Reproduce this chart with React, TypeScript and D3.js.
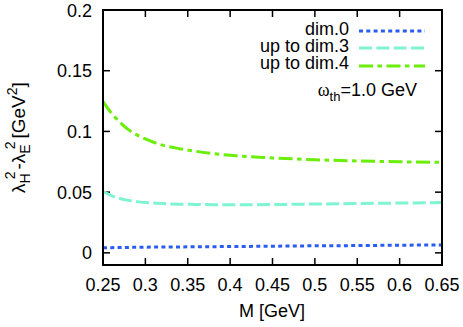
import React from "react";
import * as d3 from "d3";

const massValues = [0.25, 0.26, 0.27, 0.28, 0.29, 0.30, 0.32, 0.34, 0.36, 0.38, 0.40, 0.45, 0.50, 0.55, 0.60, 0.65];
const dim0Values = [0.0042, 0.0043, 0.0044, 0.0045, 0.0046, 0.0047, 0.0048, 0.0049, 0.0050, 0.0051, 0.0052, 0.0055, 0.0058, 0.0060, 0.0063, 0.0065];
const dim3Values = [0.0504, 0.0472, 0.0448, 0.0432, 0.0422, 0.0415, 0.0406, 0.0401, 0.0399, 0.0397, 0.0396, 0.0398, 0.0402, 0.0406, 0.0410, 0.0414];
const dim4Values = [0.1245, 0.115, 0.1075, 0.1015, 0.0972, 0.0938, 0.0887, 0.0858, 0.0836, 0.0818, 0.0803, 0.0782, 0.0767, 0.0757, 0.0750, 0.0745];

const xTicks = [0.25, 0.3, 0.35, 0.4, 0.45, 0.5, 0.55, 0.6, 0.65];
const yTicks = [0, 0.05, 0.1, 0.15, 0.2];
const legendLabels = ["dim.0", "up to dim.3", "up to dim.4"];

const W = 463, H = 327;
const L = 103, R = 442, T = 10, B = 265;
const FONT = "'Liberation Sans', Arial, Helvetica, sans-serif";
const FS = 18;
const SFS = 13;
const TICK = 7;

const series = [
  { label: legendLabels[0], values: dim0Values, color: "#2b5cf0", dash: "4,3.3" },
  { label: legendLabels[1], values: dim3Values, color: "#7ef4d2", dash: "13,4.3" },
  { label: legendLabels[2], values: dim4Values, color: "#6aee0a", dash: "14,4.5,4.5,4.5" },
];

export default function App() {
  const x = d3.scaleLinear().domain([0.25, 0.65]).range([L, R]);
  const y = d3.scaleLinear().domain([-0.01, 0.2]).range([B, T]);
  const line = d3
    .line<number>()
    .x((_, i) => x(massValues[i]))
    .y((d) => y(d))
    .curve(d3.curveMonotoneX);

  const legY = [31, 48, 66];
  const legBase = [35, 52, 69];

  return (
    <svg
      width={W}
      height={H}
      style={{ position: "absolute", left: 0, top: 0, background: "#fff" }}
      fontFamily={FONT}
    >
      <rect x={0} y={0} width={W} height={H} fill="#fff" />
      <defs>
        <clipPath id="plotclip">
          <rect x={L} y={T} width={R - L} height={B - T} />
        </clipPath>
      </defs>
      {xTicks.map((t) => (
        <g key={"xt" + t}>
          <line x1={x(t)} x2={x(t)} y1={B} y2={B - TICK} stroke="#000" strokeWidth={1.5} />
          <line x1={x(t)} x2={x(t)} y1={T} y2={T + TICK} stroke="#000" strokeWidth={1.5} />
          <text x={x(t)} y={290.5} fontSize={FS} textAnchor="middle" fill="#000">
            {d3.format("")(t)}
          </text>
        </g>
      ))}
      {yTicks.map((t) => (
        <g key={"yt" + t}>
          <line x1={L} x2={L + TICK} y1={y(t)} y2={y(t)} stroke="#000" strokeWidth={1.5} />
          <line x1={R} x2={R - TICK} y1={y(t)} y2={y(t)} stroke="#000" strokeWidth={1.5} />
          <text x={92} y={y(t) + 6.5} fontSize={FS} textAnchor="end" fill="#000">
            {d3.format("")(t)}
          </text>
        </g>
      ))}
      <g clipPath="url(#plotclip)">
        {series.map((s) => (
          <path
            key={s.label}
            d={line(s.values) || ""}
            fill="none"
            stroke={s.color}
            strokeWidth={3}
            strokeDasharray={s.dash}
          />
        ))}
      </g>
      <rect x={L} y={T} width={R - L} height={B - T} fill="none" stroke="#000" strokeWidth={2} />
      {series.map((s, i) => (
        <g key={"leg" + i}>
          <text x={349} y={legBase[i]} fontSize={FS} textAnchor="end" fill="#000">
            {s.label}
          </text>
          <line x1={359} x2={425} y1={legY[i]} y2={legY[i]} stroke={s.color} strokeWidth={3} strokeDasharray={s.dash} />
        </g>
      ))}
      <text x={417} y={96} fontSize={FS} textAnchor="end" fill="#000">
        <tspan fontFamily="'Liberation Serif', serif">ω</tspan>
        <tspan fontSize={SFS} dy={5}>th</tspan>
        <tspan dy={-5}>=1.0 GeV</tspan>
      </text>
      <text x={272} y={317} fontSize={FS} textAnchor="middle" fill="#000">
        M [GeV]
      </text>
      <text transform={`translate(25, ${(T + B) / 2}) rotate(-90)`} fontSize={19} textAnchor="middle" fill="#000">
        <tspan>λ</tspan>
        <tspan fontSize={14} dy={5}>H</tspan>
        <tspan fontSize={14} dx={-6} dy={-15}>2</tspan>
        <tspan dx={2} dy={10}>-λ</tspan>
        <tspan fontSize={14} dy={5}>E</tspan>
        <tspan fontSize={14} dx={-5} dy={-15}>2</tspan>
        <tspan dx={3} dy={10}>[GeV</tspan>
        <tspan fontSize={14} dy={-8}>2</tspan>
        <tspan dy={8}>]</tspan>
      </text>
    </svg>
  );
}
